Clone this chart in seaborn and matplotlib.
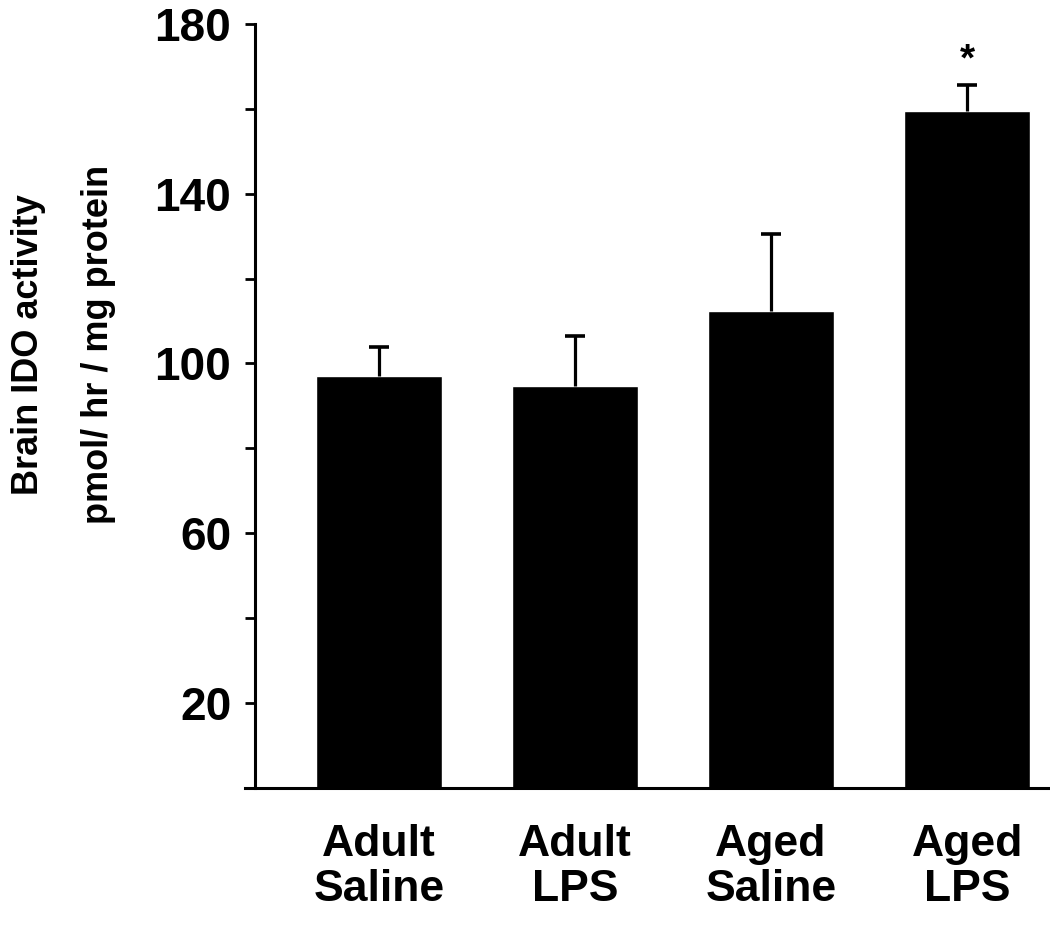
import matplotlib
matplotlib.use("Agg")
import matplotlib.pyplot as plt
import seaborn as sns
import pandas as pd
from matplotlib.ticker import MultipleLocator, FixedLocator

groups = ["Adult\nSaline", "Adult\nLPS", "Aged\nSaline", "Aged\nLPS"]
activity = [97.0, 94.6, 112.3, 159.4]
sem = [6.8, 11.8, 18.3, 6.2]
stars = ["", "", "", "*"]
y_ticks = [20, 60, 100, 140, 180]

sns.set_theme(style="white")
plt.rcParams["font.family"] = ["Liberation Sans", "DejaVu Sans"]
plt.rcParams["font.weight"] = "bold"
for key in ("text.color", "axes.labelcolor", "xtick.color", "ytick.color"):
    plt.rcParams[key] = "black"

df = pd.DataFrame({"group": groups, "activity": activity})

fig = plt.figure(figsize=(10.5, 9.32), dpi=100)
ax = fig.add_axes([0.2333, 0.1545, 0.7667, 0.82])

sns.barplot(data=df, x="group", y="activity", color="black", width=0.643,
            saturation=1, errorbar=None, ax=ax)
eb = ax.errorbar(range(len(groups)), activity, yerr=[[0] * len(sem), sem],
                 fmt="none", ecolor="black", elinewidth=2.3, capsize=7,
                 capthick=2.6)
# only the upper cap is drawn in the original
eb[1][0].set_visible(False)

for i, s in enumerate(stars):
    if s:
        ax.text(i, activity[i] + sem[i] + 5.8, s, ha="center", va="center",
                fontsize=28, fontweight="bold")

ax.set_xlim(-0.684, 3.423)
ax.set_ylim(0, 180)
ax.spines["left"].set_position(("data", -0.633))
ax.spines["top"].set_visible(False)
ax.spines["right"].set_visible(False)
for sp in ("left", "bottom"):
    ax.spines[sp].set_linewidth(2.2)
    ax.spines[sp].set_color("black")

ax.yaxis.set_major_locator(FixedLocator(y_ticks))
ax.yaxis.set_minor_locator(MultipleLocator(20))
ax.tick_params(axis="y", which="both", direction="out", length=7, width=2,
               left=True, color="black", labelsize=33, pad=10)
ax.tick_params(axis="x", bottom=False, labelsize=32, pad=20)
for lab in ax.get_yticklabels() + ax.get_xticklabels():
    lab.set_fontweight("bold")
for lab in ax.get_xticklabels():
    lab.set_linespacing(1.12)

ax.set_xlabel("")
ax.set_ylabel("Brain IDO activity\npmol/ hr / mg protein", fontsize=26,
              fontweight="bold", linespacing=2.3)
ax.yaxis.set_label_coords(-0.16, 0.58)

fig.savefig("out.png", dpi=100, facecolor="white")
